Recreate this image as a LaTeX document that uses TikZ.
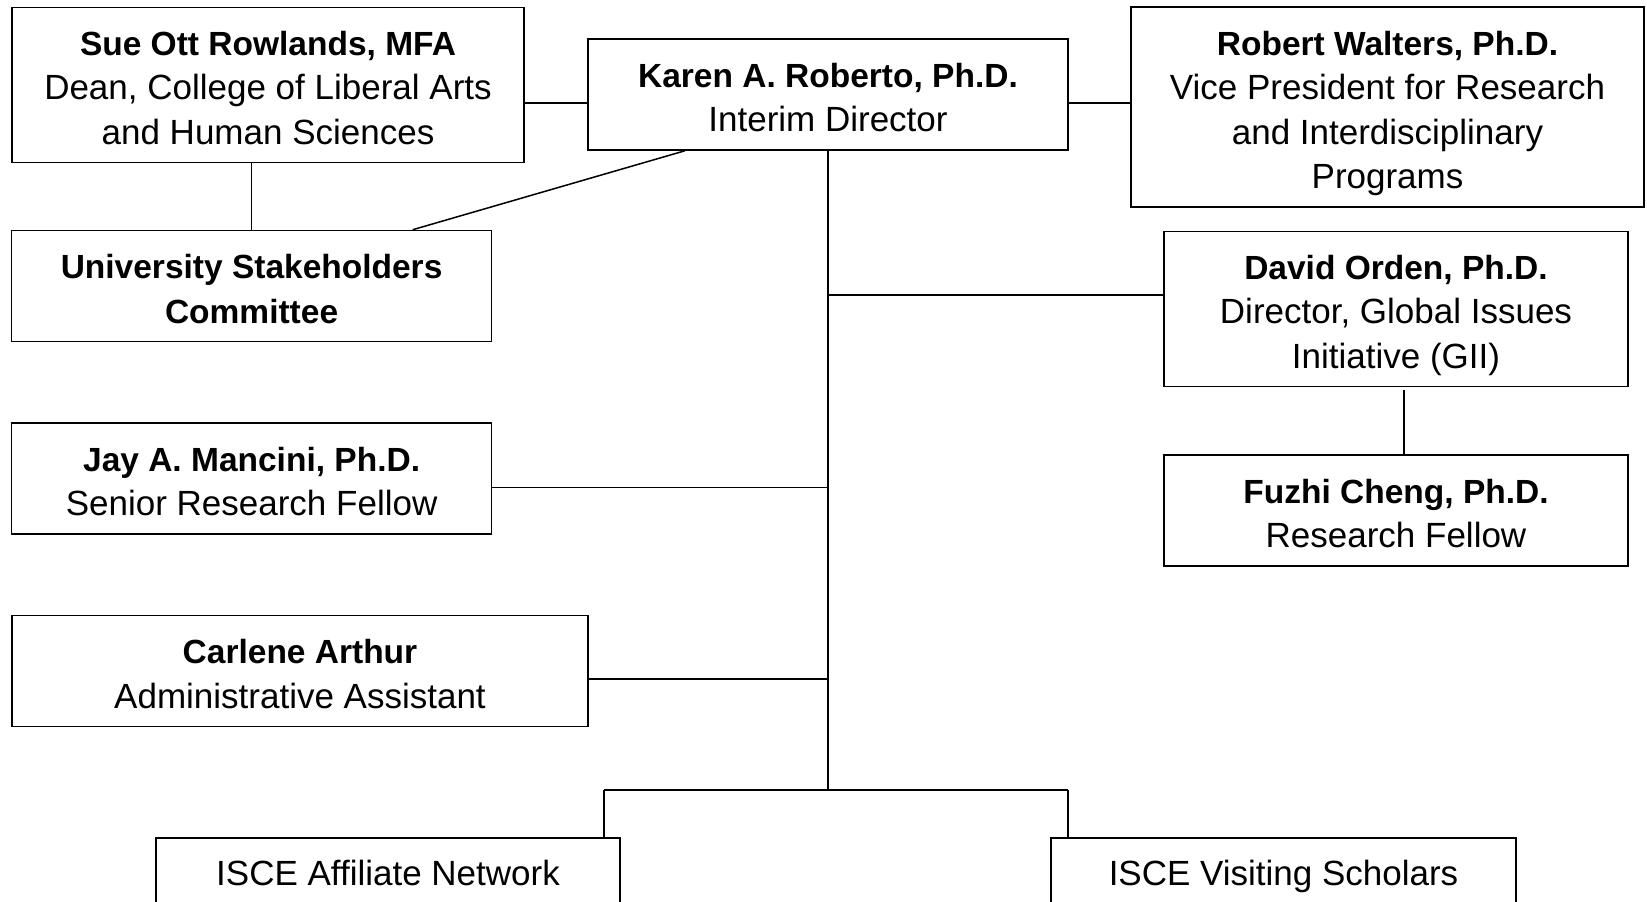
\documentclass[tikz,border=0pt]{standalone}
\usepackage{fontspec}
\setmainfont{Liberation Sans}
\usepackage{tikz}

\newcommand{\tstrut}{\rule[-7.4pt]{0pt}{44.5pt}}
\newcommand{\who}[1]{{\fontsize{33.5}{44.5}\selectfont\bfseries\tstrut #1}}
\newcommand{\what}[1]{\tstrut #1}

\begin{document}
\begin{tikzpicture}[x=1pt, y=-1pt, line width=1.5pt, draw=black]
      \tikzstyle{person}=[rectangle, draw, line width=1.5pt, align=center, inner sep=0pt, font=\fontsize{35}{44.5}\selectfont]
      \tikzstyle{one line}=[person, minimum height=66pt]
      \tikzstyle{two line}=[person, minimum height=111pt]
      \tikzstyle{three line}=[person, minimum height=155pt]
      \tikzstyle{four line}=[person, minimum height=200pt]
      \tikzstyle{link}=[draw, line width=1.5pt]

      \useasboundingbox (0,0) rectangle (1647,902);

      \node[three line, minimum width=512pt] (sue) at (268,85) {\who{Sue Ott Rowlands, MFA}\\\what{Dean, College of Liberal Arts}\\\what{and Human Sciences}};
      \node[two line, minimum width=480pt] (karen) at (828,94.5) {\who{Karen A. Roberto, Ph.D.}\\\what{Interim Director}};
      \node[four line, minimum width=513pt] (robert) at (1387.5,107) {\who{Robert Walters, Ph.D.}\\\what{Vice President for Research}\\\what{and Interdisciplinary}\\\what{Programs}};
      \node[two line, minimum width=480pt] (univ) at (251.6,286) {\who{University Stakeholders}\\\who{Committee}};
      \node[three line, minimum width=464pt] (david) at (1396,309) {\who{David Orden, Ph.D.}\\\what{Director, Global Issues}\\\what{Initiative (GII)}};
      \node[two line, minimum width=464pt] (fuzhi) at (1396,510.5) {\who{Fuzhi Cheng, Ph.D.}\\\what{Research Fellow}};
      \node[two line, minimum width=480pt] (jay) at (251.6,478.5) {\who{Jay A. Mancini, Ph.D.}\\\what{Senior Research Fellow}};
      \node[two line, minimum width=576pt] (carlene) at (300,671) {\who{Carlene Arthur}\\\what{Administrative Assistant}};
      \node[one line, minimum width=464pt] (affil) at (388,871) {\what{ISCE Affiliate Network}};
      \node[one line, minimum width=465pt] (visit) at (1283.5,871) {\what{ISCE Visiting Scholars}};

      \coordinate (bus) at (828,790);
      \coordinate (busL) at (604,790);
      \coordinate (busR) at (1068,790);

      \path[link] ([yshift=-8.5pt]karen.west) -- ([yshift=-8.5pt]karen.west -| sue.east);
      \path[link] ([yshift=-8.5pt]karen.east) -- ([yshift=-8.5pt]karen.east -| robert.west);
      \path[link] (univ.north) -- (univ.north |- sue.south);
      \path[link] ([xshift=-143pt]karen.south) -- ([xshift=161pt]univ.north);
      \path[link] ([xshift=8pt,yshift=-3pt]david.south) -- ([xshift=8pt]fuzhi.north);

      \path[link] (karen.south) -- (bus);
      \path[link] ([yshift=14pt]david.west) -- ([yshift=14pt]david.west -| bus);
      \path[link] ([yshift=-9pt]jay.east) -- ([yshift=-9pt]jay.east -| bus);
      \path[link] ([yshift=-8pt]carlene.east) -- ([yshift=-8pt]carlene.east -| bus);
      \path[link] (busL) -- (busR);
      \path[link] (busL) -- (busL |- affil.north);
      \path[link] (busR) -- (busR |- visit.north);
  \end{tikzpicture}
\end{document}
